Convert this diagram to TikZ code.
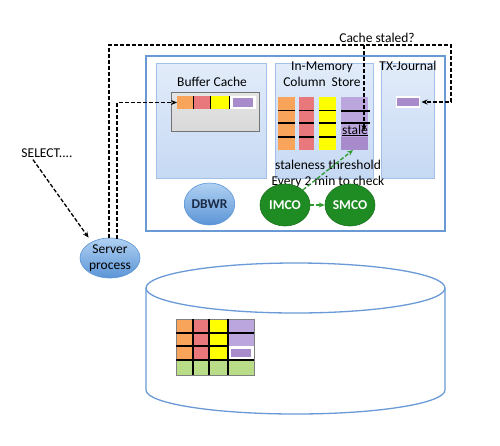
\documentclass[tikz,border=0pt]{standalone}
\usepackage{fontspec}
\setmainfont{Carlito}
\usetikzlibrary{arrows.meta,shapes.geometric}
\definecolor{outerb}{HTML}{6A9AD6}
\definecolor{panelt}{HTML}{E2ECFA}
\definecolor{panelb}{HTML}{C6D9F3}
\definecolor{paneld}{HTML}{A3C0E8}
\definecolor{corange}{HTML}{F9A45B}
\definecolor{cred}{HTML}{E8787B}
\definecolor{cyellow}{HTML}{FFFF00}
\definecolor{cpurple}{HTML}{A88BCB}
\definecolor{cpurplel}{HTML}{BBA6DE}
\definecolor{cgreen}{HTML}{B9DC87}
\definecolor{dgreen}{HTML}{1F8C23}
\definecolor{eblue}{HTML}{7CB2EA}
\definecolor{eblued}{HTML}{5B95D6}
\definecolor{gbox}{HTML}{D9D9D9}
\definecolor{dbwrtxt}{HTML}{1B2A47}
\definecolor{agreen}{HTML}{2E9A2E}
\begin{document}
\begin{tikzpicture}[x=1pt,y=-1pt,
  font=\fontsize{13.5}{16}\selectfont,
  panel/.style={draw=paneld,line width=0.9pt,top color=panelt,bottom color=panelb},
  cellbox/.style={draw=none,inner sep=0pt,outer sep=0pt},
  gridline/.style={black,line width=1.4pt},
  bdash/.style={black,line width=1.3pt,dash pattern=on 4pt off 2pt,-{Stealth[length=6pt,width=5pt]}},
  gdash/.style={agreen,line width=1.3pt,dash pattern=on 4pt off 2pt,-{Stealth[length=6pt,width=5pt]}},
  bluell/.style={ellipse,draw=eblued,line width=0.6pt,top color=eblue!60!white,bottom color=eblued,inner sep=0pt},
  greenell/.style={ellipse,draw=dgreen!80!black,line width=0.6pt,fill=dgreen,inner sep=0pt,text=white,font=\fontsize{13.5}{16}\selectfont\bfseries},
  lbl/.style={inner sep=0pt,text=black},
  cyl/.style={outerb,line width=1.3pt}]
\useasboundingbox (0,0) rectangle (500,445);

% outer rectangle and panels
\draw[outerb,line width=1.3pt,fill=white] (146,56) rectangle (445,231);
\draw[panel] (156,63) rectangle (266,178);
\draw[panel] (275,63) rectangle (373,178);
\draw[panel] (381,63) rectangle (434,178);

\node[lbl] (bctitle) at (212,82) {Buffer Cache};
\node[lbl,align=center] (imtitle) at (322,74) {In-Memory\\Column\ \ Store};
\node[lbl] (txtitle) at (408,66) {TX-Journal};
\node[lbl] (cachest) at (377,38) {Cache staled?};

% buffer cache box
\draw[draw=black!55,line width=0.9pt,top color=gbox!70!white,bottom color=gbox] (171,92) rectangle (259,131);
\node[cellbox,fill=corange,minimum width=16pt,minimum height=13pt] (bc1) at (185,102.5) {};
\fill[cred] (193,96) rectangle (210.5,109);
\fill[cyellow] (210.5,96) rectangle (229.5,109);
\fill[white] (229.5,96) rectangle (256,109);
\fill[cpurple] (233,98) rectangle (253,106.5);
\draw[black,line width=1pt] (193,96) -- (193,109) (210.5,96) -- (210.5,109) (229.5,96) -- (229.5,109);

% column store columns
\fill[corange] (278,97) rectangle (295,150);
\fill[cred] (299,97) rectangle (314,150);
\fill[cyellow] (319,97) rectangle (336,150);
\node[cellbox,fill=cpurplel,minimum width=27pt,minimum height=53pt] (pcol) at (354.5,123.5) {};
\fill[cpurple] (341,137) rectangle (368,150);
\foreach \y in {110.5,123,137}{
  \draw[gridline] (278,\y) -- (295,\y);
  \draw[gridline] (299,\y) -- (314,\y);
  \draw[gridline] (319,\y) -- (336,\y);
}
\draw[gridline] (341,111) -- (370,111);
\draw[gridline] (341,123) -- (370,123);
\node[lbl,text=black] (stale) at (355,130.5) {\underline{stale}};

% TX journal entry
\node[cellbox,fill=cpurple,draw=white,line width=1.5pt,minimum width=23pt,minimum height=10pt,outer sep=2pt] (txp) at (408,102) {};

% texts for staleness
\node[lbl] (thr) at (328,165) {staleness threshold};
\node[lbl] (every) at (328,182) {Every 2 min to check};

% processes
\node[bluell,minimum width=49pt,minimum height=42pt,text=dbwrtxt,font=\fontsize{13.5}{16}\selectfont\bfseries] (dbwr) at (209.5,204) {DBWR};
\node[greenell,minimum width=50pt,minimum height=42pt] (imco) at (285,205) {IMCO};
\node[greenell,minimum width=50pt,minimum height=42pt] (smco) at (350,205) {SMCO};

\draw[gdash] (imco.east) -- (smco.west);
\draw[gdash] (imco.north east) -- ([xshift=-1.5pt]pcol.south);

% server process
\node[bluell,minimum width=60pt,minimum height=40pt] (sp) at (110,258) {};
\node[lbl,align=center] (sptext) at (sp) {Server\\process};
\node[lbl] (sel) at (47,153) {SELECT....};

% dashed connectors
\coordinate (p1) at (109,0);
\coordinate (p2) at (117,0);
\coordinate (tr) at (451,45);
\coordinate (cs) at (364,45);
\coordinate (ce) at (364,131);
\draw[bdash] (sp.north -| p1) |- (tr) |- (txp.east);
\draw[bdash] ([yshift=-1pt]sp.north -| p2) |- (bc1.west);
\draw[bdash] (cs) -- (ce);
\draw[bdash] ([xshift=-14pt,yshift=-2pt]sel.south) -- ([yshift=6pt]sp.north west);

% disk cylinder
\draw[cyl] (295.5,288) ellipse [x radius=149.5pt, y radius=25pt];
\draw[cyl] (146,288) -- (146,390) arc[start angle=180,end angle=360,x radius=149.5pt,y radius=24pt] -- (445,288);

% disk table
\foreach \ya/\yb in {319/333,333/346,346/360}{
  \fill[corange] (176,\ya) rectangle (193,\yb);
  \fill[cred] (193,\ya) rectangle (209,\yb);
  \fill[cyellow] (209,\ya) rectangle (228,\yb);
}
\fill[cpurplel] (228,319) rectangle (254,346);
\fill[white] (228,346) rectangle (254,360);
\fill[cpurple] (231,349) rectangle (251,357);
\fill[cgreen] (176,360) rectangle (254,375);
\draw[black!50,line width=0.6pt] (176,319) rectangle (254,375);
\draw[gridline] (193,319) -- (193,375) (209,319) -- (209,375) (228,319) -- (228,375);
\draw[gridline] (176,333) -- (254,333) (176,346) -- (228,346) (176,360) -- (254,360);
\end{tikzpicture}
\end{document}
